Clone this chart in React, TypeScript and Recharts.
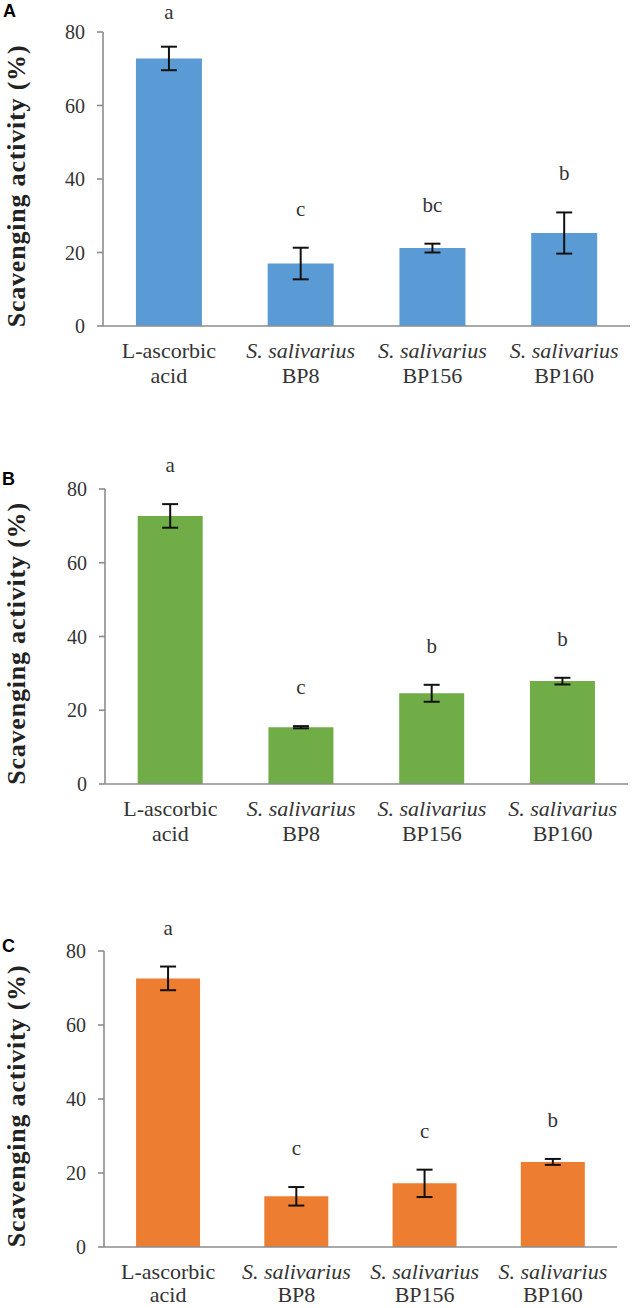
import { BarChart, Bar, XAxis, YAxis, ErrorBar, LabelList } from 'recharts'

const categories = ['L-ascorbic acid', 'S. salivarius BP8', 'S. salivarius BP156', 'S. salivarius BP160']
const yTicks = [0, 20, 40, 60, 80]

// panel A
const meansA = [72.8, 17.0, 21.2, 25.3]
const errorsA = [3.2, 4.3, 1.2, 5.6]
const lettersA = ['a', 'c', 'bc', 'b']

// panel B
const meansB = [72.7, 15.4, 24.6, 27.9]
const errorsB = [3.2, 0.3, 2.3, 0.9]
const lettersB = ['a', 'c', 'b', 'b']

// panel C
const meansC = [72.6, 13.7, 17.2, 23.0]
const errorsC = [3.2, 2.5, 3.7, 0.8]
const lettersC = ['a', 'c', 'c', 'b']

const SERIF = '"Liberation Serif", "Times New Roman", serif'
const AXIS_GREY = '#8c8c8c'
const TEXT = '#333333'

function CategoryTick(props: any) {
  const { x, y, payload, lineGap } = props
  const name: string = payload.value
  const cut = name.lastIndexOf(' ')
  const first = name.slice(0, cut)
  const second = name.slice(cut + 1)
  const italic = first.startsWith('S.')
  return (
    <g>
      <text x={x} y={y + 32} textAnchor="middle" fontFamily={SERIF} fontSize={22} fill={TEXT} fontStyle={italic ? 'italic' : 'normal'}>
        {first}
      </text>
      <text x={x} y={y + 32 + lineGap} textAnchor="middle" fontFamily={SERIF} fontSize={22} fill={TEXT}>
        {second}
      </text>
    </g>
  )
}

function yTitle(props: any) {
  const vb = props.viewBox || {}
  const cx = 25
  const cy = vb.y + vb.height / 2 + 7
  return (
    <text
      x={cx}
      y={cy}
      transform={`rotate(-90, ${cx}, ${cy})`}
      textAnchor="middle"
      fontFamily={SERIF}
      fontWeight="bold"
      fontSize={26}
      letterSpacing={0.8}
      fill="#222"
    >
      Scavenging activity (%)
    </text>
  )
}

interface PanelProps {
  means: number[]
  errors: number[]
  letters: string[]
  color: string
  top: number
  height: number
  marginTop: number
  axisX: number
  plotRight: number
  plotHeight: number
  lineGap: number
}

function Panel({ means, errors, letters, color, top, height, marginTop, axisX, plotRight, plotHeight, lineGap }: PanelProps) {
  const data = categories.map((name, i) => ({ name, mean: means[i], sd: errors[i], letter: letters[i] }))

  const renderLetter = (p: any) => {
    const { x, y, width, height: h, index, value } = p
    const perUnit = h / means[index]
    const errTop = y - errors[index] * perUnit
    return (
      <text x={x + width / 2} y={Math.max(errTop - 32, 19)} textAnchor="middle" fontFamily={SERIF} fontSize={21} fill={TEXT}>
        {value}
      </text>
    )
  }

  return (
    <div style={{ position: 'absolute', top, left: 0 }}>
      <BarChart
        width={633}
        height={height}
        data={data}
        barCategoryGap="25%"
        margin={{ top: marginTop, right: 633 - plotRight, left: 0, bottom: 0 }}
      >
        <XAxis
          dataKey="name"
          interval={0}
          height={height - marginTop - plotHeight}
          axisLine={{ stroke: AXIS_GREY, strokeWidth: 1.6 }}
          tickLine={false}
          tickSize={0}
          tickMargin={0}
          tick={<CategoryTick lineGap={lineGap} />}
        />
        <YAxis
          width={axisX}
          domain={[0, 80]}
          ticks={yTicks}
          tickSize={6}
          tickMargin={12}
          axisLine={{ stroke: AXIS_GREY, strokeWidth: 1.6 }}
          tickLine={{ stroke: AXIS_GREY, strokeWidth: 1.6 }}
          tick={{ fontFamily: SERIF, fontSize: 20, fill: TEXT }}
          label={{ content: yTitle }}
        />
        <Bar dataKey="mean" fill={color} isAnimationActive={false}>
          <ErrorBar dataKey="sd" width={8} strokeWidth={2} stroke="#111" direction="y" isAnimationActive={false} />
          <LabelList dataKey="letter" content={renderLetter} />
        </Bar>
      </BarChart>
    </div>
  )
}

export default function App() {
  return (
    <div style={{ position: 'absolute', top: 0, left: 0, width: 633, height: 1308, background: '#fff' }}>
      <Panel means={meansA} errors={errorsA} letters={lettersA} color="#5b9bd5"
        top={0} height={420} marginTop={32} axisX={103} plotRight={630} plotHeight={294} lineGap={25} />
      <Panel means={meansB} errors={errorsB} letters={lettersB} color="#70ad47"
        top={420} height={440} marginTop={69} axisX={105} plotRight={628} plotHeight={295} lineGap={25} />
      <Panel means={meansC} errors={errorsC} letters={lettersC} color="#ed7d31"
        top={860} height={448} marginTop={91} axisX={104} plotRight={617} plotHeight={296} lineGap={23} />
      <svg width={633} height={1308} style={{ position: 'absolute', top: 0, left: 0, pointerEvents: 'none' }}>
        <g fontFamily='"Liberation Sans", Arial, sans-serif' fontWeight="bold" fontSize={18} fill="#000">
          <text x={3} y={17}>A</text>
          <text x={2} y={485}>B</text>
          <text x={2} y={952}>C</text>
        </g>
      </svg>
    </div>
  )
}
